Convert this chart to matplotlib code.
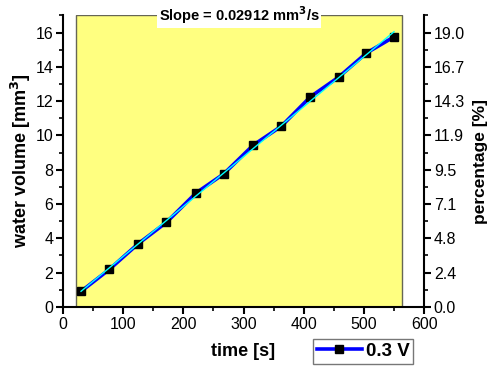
import numpy as np
import matplotlib
matplotlib.use('Agg')
import matplotlib.pyplot as plt
from matplotlib.ticker import MultipleLocator

plt.rcParams['font.family'] = ['Liberation Sans', 'DejaVu Sans']

# measured data (0.3 V)
time_s = [30, 77, 125, 172, 221, 267, 316, 363, 411, 458, 504, 550]
volume = [0.90, 2.18, 3.68, 4.93, 6.64, 7.75, 9.43, 10.54, 12.25, 13.40, 14.80, 15.75]

# linear fit shown in the plot
slope = 0.02912
intercept = 0.03

# shaded region and right axis
span_x = [21.6, 564]
pct_factor = 1.19
pct_labels = ['0.0', '2.4', '4.8', '7.1', '9.5', '11.9', '14.3', '16.7', '19.0']

fig = plt.figure(figsize=(4.92, 3.67), dpi=100)
ax = fig.add_axes([0.128, 0.164, 0.734, 0.794])

ax.axvspan(span_x[0], span_x[1], facecolor='#FFFF80', edgecolor='#666655', lw=1, zorder=0)

line, = ax.plot(time_s, volume, color='#0000FF', lw=2.6, marker='s', ms=6,
                mfc='black', mec='black', label='0.3 V', zorder=3)
fit_x = np.array([time_s[0], time_s[-1]])
ax.plot(fit_x, slope * fit_x + intercept, color='#00FFFF', lw=1, zorder=4)

ax.set_xlim(0, 600)
ax.set_ylim(0, 17)
ax.xaxis.set_major_locator(MultipleLocator(100))
ax.xaxis.set_minor_locator(MultipleLocator(50))
ax.yaxis.set_major_locator(MultipleLocator(2))
ax.yaxis.set_minor_locator(MultipleLocator(1))
ax.tick_params(which='major', direction='out', length=5, width=1.5, labelsize=11.5, pad=2)
ax.tick_params(which='minor', direction='out', length=3, width=1.2)
ax.spines['top'].set_visible(False)
ax.spines['right'].set_visible(False)
for s in ['left', 'bottom']:
    ax.spines[s].set_linewidth(1.5)

ax.set_xlabel('time [s]', fontsize=13, fontweight='bold', labelpad=8)
ax.set_ylabel('water volume [mm$^\\mathbf{3}$]', fontsize=13, fontweight='bold', labelpad=2)

ax2 = ax.twinx()
ax2.set_ylim(0, 17 * pct_factor)
ax2.set_yticks([2 * i * pct_factor for i in range(len(pct_labels))])
ax2.set_yticklabels(pct_labels)
ax2.set_yticks([(2 * i + 1) * pct_factor for i in range(len(pct_labels))], minor=True)
ax2.tick_params(which='major', direction='out', length=5, width=1.5, labelsize=11.5, pad=2)
ax2.tick_params(which='minor', direction='out', length=3, width=1.2)
for s in ['left', 'top', 'bottom']:
    ax2.spines[s].set_visible(False)
ax2.spines['right'].set_linewidth(1.5)
ax2.set_ylabel('percentage [%]', fontsize=12.5, fontweight='bold', labelpad=6)

ax.text(0.4875, 1.0, 'Slope = 0.02912 mm$^\\mathbf{3}$/s', transform=ax.transAxes,
        ha='center', va='center', fontsize=10.5, fontweight='bold', zorder=5,
        bbox=dict(facecolor='white', edgecolor='none', pad=1.2))

leg = fig.legend(handles=[line], loc='center', bbox_to_anchor=(0.738, 0.043),
                 prop={'weight': 'bold', 'size': 13.5}, fancybox=False,
                 edgecolor='#555555', handlelength=2.4, borderpad=0.2,
                 handletextpad=0.2, borderaxespad=0)
leg.get_frame().set_linewidth(1)

fig.savefig('out.png', dpi=100)
